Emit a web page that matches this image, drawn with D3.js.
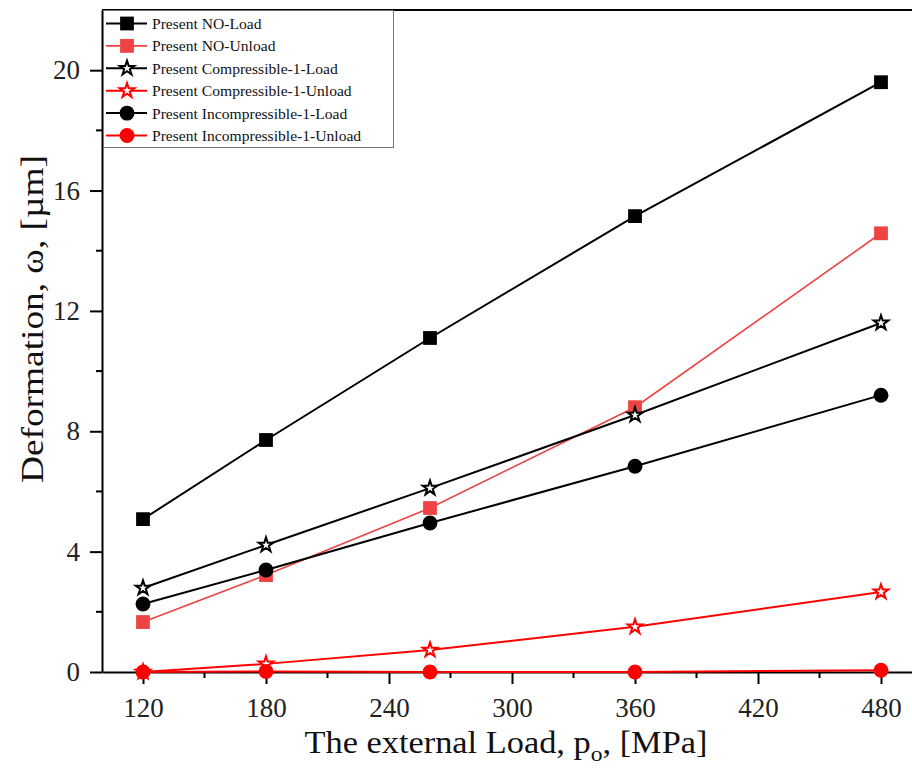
<!DOCTYPE html>
<html>
<head>
<meta charset="utf-8">
<script src="https://cdn.jsdelivr.net/npm/d3@7"></script>
<style>
  body { margin: 0; background: #fff; }
  svg { display: block; font-family: "Liberation Serif", "Times New Roman", serif; }
</style>
</head>
<body>
<svg width="912" height="778"></svg>
<script>
// Datos del gráfico
const loads = [120, 180, 260, 360, 480];
const noLoad = [5.08, 7.71, 11.1, 15.15, 19.6];
const noUnload = [1.66, 3.22, 5.45, 8.8, 14.58];
const compLoad = [2.79, 4.22, 6.11, 8.54, 11.6];
const compUnload = [0.0, 0.27, 0.73, 1.5, 2.66];
const incompLoad = [2.26, 3.39, 4.95, 6.84, 9.2];
const incompUnload = [0.0, 0.02, 0.0, 0.0, 0.06];
const xTicks = [120, 180, 240, 300, 360, 420, 480];
const yTicks = [0, 4, 8, 12, 16, 20];

const seriesNames = [
  "Present NO-Load",
  "Present NO-Unload",
  "Present Compressible-1-Load",
  "Present Compressible-1-Unload",
  "Present Incompressible-1-Load",
  "Present Incompressible-1-Unload"
];
const seriesValues = [noLoad, noUnload, compLoad, compUnload, incompLoad, incompUnload];

// Estilo de cada serie
const styles = [
  { color: "#000000", symbol: d3.symbolSquare, size: 190, fill: true, width: 2 },
  { color: "#ee4343", symbol: d3.symbolSquare, size: 190, fill: true, width: 1.6 },
  { color: "#000000", symbol: d3.symbolStar, size: 66, fill: false, width: 2 },
  { color: "#ff0000", symbol: d3.symbolStar, size: 66, fill: false, width: 2 },
  { color: "#000000", symbol: d3.symbolCircle, size: 175, fill: true, width: 2 },
  { color: "#ff0000", symbol: d3.symbolCircle, size: 175, fill: true, width: 2 }
];

const svg = d3.select("svg");

const plotLeft = 102, plotRight = 922, plotTop = 10, plotBottom = 672;

const x = d3.scaleLinear().domain([100, 500]).range([plotLeft, plotRight]);
const y = d3.scaleLinear().domain([0, 22]).range([plotBottom, plotTop]);

// Marco superior
svg.append("line")
  .attr("x1", plotLeft).attr("x2", plotRight)
  .attr("y1", plotTop).attr("y2", plotTop)
  .attr("stroke", "#000").attr("stroke-width", 2);

// Ticks menores
const xMinor = d3.range(150, 500, 60);
const yMinor = d3.range(2, 22, 4);

svg.append("g")
  .selectAll("line")
  .data(xMinor)
  .enter()
  .append("line")
  .attr("x1", d => x(d)).attr("x2", d => x(d))
  .attr("y1", plotBottom).attr("y2", plotBottom + 6)
  .attr("stroke", "#000").attr("stroke-width", 2);

svg.append("g")
  .selectAll("line")
  .data(yMinor)
  .enter()
  .append("line")
  .attr("x1", plotLeft).attr("x2", plotLeft - 6)
  .attr("y1", d => y(d)).attr("y2", d => y(d))
  .attr("stroke", "#000").attr("stroke-width", 2);

// Eje X
const xAxis = svg.append("g")
  .attr("transform", `translate(0,${plotBottom})`)
  .call(d3.axisBottom(x).tickValues(xTicks).tickSize(12).tickSizeOuter(0).tickPadding(14));
xAxis.select(".domain").attr("stroke-width", 2);
xAxis.selectAll(".tick line").attr("stroke-width", 2);
xAxis.selectAll("text").style("font-size", "27px").style("font-family", "Liberation Serif").attr("fill", "#222");

// Eje Y
const yAxis = svg.append("g")
  .attr("transform", `translate(${plotLeft},0)`)
  .call(d3.axisLeft(y).tickValues(yTicks).tickSize(12).tickSizeOuter(0).tickPadding(10));
yAxis.select(".domain").attr("stroke-width", 2);
yAxis.selectAll(".tick line").attr("stroke-width", 2);
yAxis.selectAll("text").style("font-size", "27px").style("font-family", "Liberation Serif").attr("fill", "#222");

// Títulos de los ejes
const xTitle = svg.append("text")
  .attr("x", 506)
  .attr("y", 753)
  .attr("text-anchor", "middle")
  .style("font-size", "32px")
  .attr("fill", "#111");
xTitle.append("tspan").text("The external Load, p");
xTitle.append("tspan").attr("dy", 8).style("font-size", "22px").text("o");
xTitle.append("tspan").attr("dy", -8).text(", [MPa]");
// Ajustar el ancho del título al de la referencia
const xw = xTitle.node().getComputedTextLength();
xTitle.attr("transform", `translate(506,0) scale(${403 / xw},1) translate(-506,0)`);

svg.append("text")
  .attr("transform", "translate(43,319) rotate(-90)")
  .attr("text-anchor", "middle")
  .style("font-size", "32px")
  .attr("fill", "#111")
  .attr("textLength", 328)
  .attr("lengthAdjust", "spacingAndGlyphs")
  .text("Deformation, ω, [µm]");

// Líneas y marcadores
const line = d3.line()
  .x((d, i) => x(loads[i]))
  .y(d => y(d));

seriesValues.forEach((vals, s) => {
  const st = styles[s];
  const g = svg.append("g");
  g.append("path")
    .attr("d", line(vals))
    .attr("fill", "none")
    .attr("stroke", st.color)
    .attr("stroke-width", st.width);
  g.selectAll("path.mark")
    .data(vals)
    .enter()
    .append("path")
    .attr("class", "mark")
    .attr("transform", (d, i) => `translate(${x(loads[i])},${y(d)})`)
    .attr("d", d3.symbol().type(st.symbol).size(st.size))
    .attr("fill", st.fill ? st.color : "#fff")
    .attr("stroke", st.color)
    .attr("stroke-width", st.fill ? 0 : 2);
});

// Leyenda
const legend = svg.append("g");
legend.append("rect")
  .attr("x", 103.5).attr("y", 10.5)
  .attr("width", 290).attr("height", 137)
  .attr("fill", "#fff")
  .attr("stroke", "#777")
  .attr("stroke-width", 1);

seriesNames.forEach((name, s) => {
  const st = styles[s];
  const ly = 23.5 + s * 22.4;
  legend.append("line")
    .attr("x1", 106).attr("x2", 147)
    .attr("y1", ly).attr("y2", ly)
    .attr("stroke", st.color).attr("stroke-width", st.width);
  legend.append("path")
    .attr("transform", `translate(127,${ly})`)
    .attr("d", d3.symbol().type(st.symbol).size(st.size))
    .attr("fill", st.fill ? st.color : "#fff")
    .attr("stroke", st.color)
    .attr("stroke-width", st.fill ? 0 : 2);
  legend.append("text")
    .attr("x", 152)
    .attr("y", ly + 5.5)
    .style("font-size", "15.6px")
    .attr("fill", "#111")
    .text(name);
});
</script>
</body>
</html>
